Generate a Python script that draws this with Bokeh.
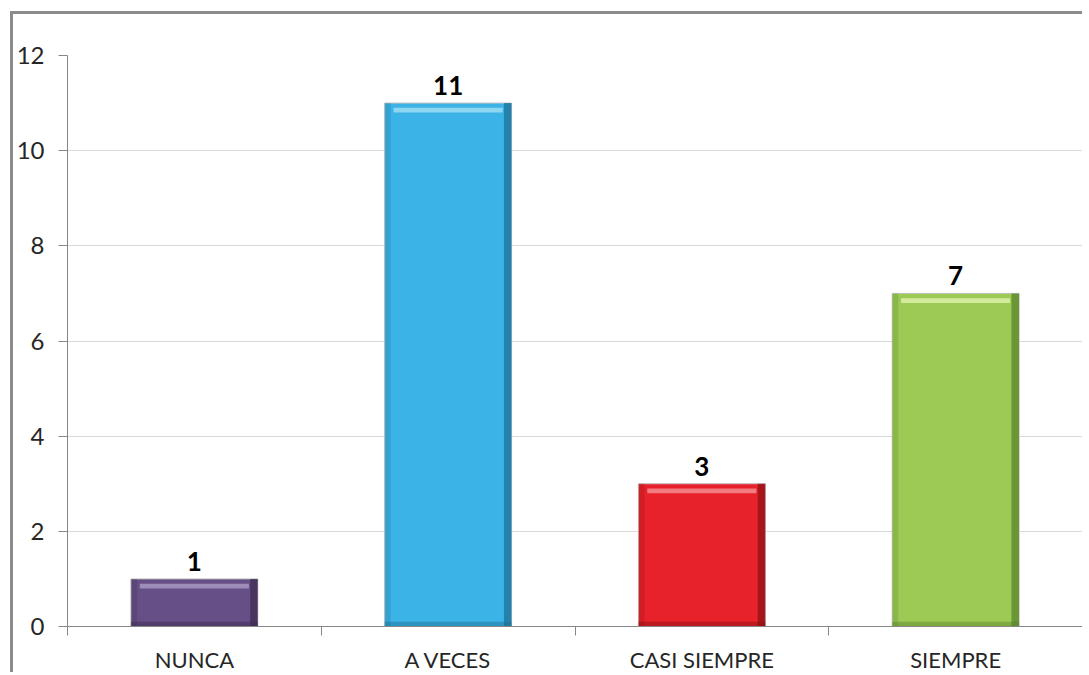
from bokeh.plotting import figure
from bokeh.models import ColumnDataSource, FixedTicker, Range1d
from bokeh.core.properties import value
from bokeh.embed import file_html
from bokeh.resources import INLINE

categories = ["NUNCA", "A VECES", "CASI SIEMPRE", "SIEMPRE"]
values = [1, 11, 3, 7]
colors = ["#664F86", "#3BB3E6", "#E8222A", "#9BCA55"]
light_colors = ["#A896C2", "#9EDDF5", "#F58C90", "#DDF0A8"]
dark_colors = ["#3A2B4F", "#1A6E93", "#8A1014", "#56802A"]
y_ticks = [0, 2, 4, 6, 8, 10, 12]

xs = [i + 0.5 for i in range(len(categories))]
src = ColumnDataSource(dict(x=xs, top=values, color=colors, light=light_colors, dark=dark_colors,
                            label=[str(v) for v in values],
                            xr=[x + 0.235 for x in xs], xl=[x - 0.238 for x in xs],
                            band_b=[v - 0.2 for v in values], band_t=[v - 0.1 for v in values]))

p = figure(width=1072, height=661, output_backend="svg", toolbar_location=None,
           x_range=Range1d(0, len(categories)), y_range=Range1d(0, 12),
           min_border_left=54, min_border_right=3, min_border_top=41, min_border_bottom=49)
p.styles = {"margin-left": "10px", "margin-top": "11px",
            "border-left": "3px solid #8C8C8C", "border-top": "3px solid #8C8C8C"}
p.outline_line_color = None
p.background_fill_color = "white"
p.border_fill_color = "white"

# bars
p.vbar(x="x", top="top", bottom=0, width=0.5, source=src, fill_color="color",
       line_color="#BFBFBF", line_width=1)
# bevel: dark right edge, soft left edge, dark bottom
p.vbar(x="xr", top="top", bottom=0, width=0.03, source=src, fill_color="dark",
       fill_alpha=0.7, line_color=None)
p.vbar(x="xl", top="top", bottom=0, width=0.024, source=src, fill_color="dark",
       fill_alpha=0.25, line_color=None)
p.vbar(x="x", top=0.1, bottom=0, width=0.5, source=src, fill_color="dark",
       fill_alpha=0.45, line_color=None)
# bevel: light top band
p.vbar(x="x", top="band_t", bottom="band_b", width=0.43, source=src, fill_color="light",
       fill_alpha=0.85, line_color=None)

# value labels
p.text(x="x", y="top", text="label", source=src, text_align="center", text_baseline="bottom",
       y_offset=-8, text_font_size="26px", text_font_style="bold", text_color="#000000",
       text_font=value("Lato"))

# axes
p.xaxis.ticker = FixedTicker(ticks=xs, minor_ticks=list(range(len(categories) + 1)))
p.xaxis.major_label_overrides = {x: c for x, c in zip(xs, categories)}
p.xaxis.major_tick_line_color = None
p.xaxis.major_tick_out = 0
p.xaxis.major_tick_in = 0
p.xaxis.minor_tick_line_color = "#868686"
p.xaxis.minor_tick_out = 9
p.xaxis.minor_tick_in = 0
p.xaxis.major_label_standoff = 10
p.xaxis.major_label_text_font = "Lato"
p.xaxis.major_label_text_font_size = "22px"
p.xaxis.major_label_text_color = "#262626"
p.xaxis.axis_line_color = "#868686"

p.yaxis.ticker = FixedTicker(ticks=y_ticks, minor_ticks=[])
p.yaxis.major_tick_out = 9
p.yaxis.major_tick_in = 0
p.yaxis.major_tick_line_color = "#868686"
p.yaxis.minor_tick_line_color = None
p.yaxis.axis_line_color = "#868686"
p.yaxis.major_label_standoff = 14
p.yaxis.major_label_text_font = "Lato"
p.yaxis.major_label_text_font_size = "24px"
p.yaxis.major_label_text_color = "#262626"

p.xgrid.grid_line_color = None
p.ygrid.ticker = FixedTicker(ticks=y_ticks)
p.ygrid.grid_line_color = "#D9D9D9"

open("out.html", "w").write(file_html(p, INLINE))
